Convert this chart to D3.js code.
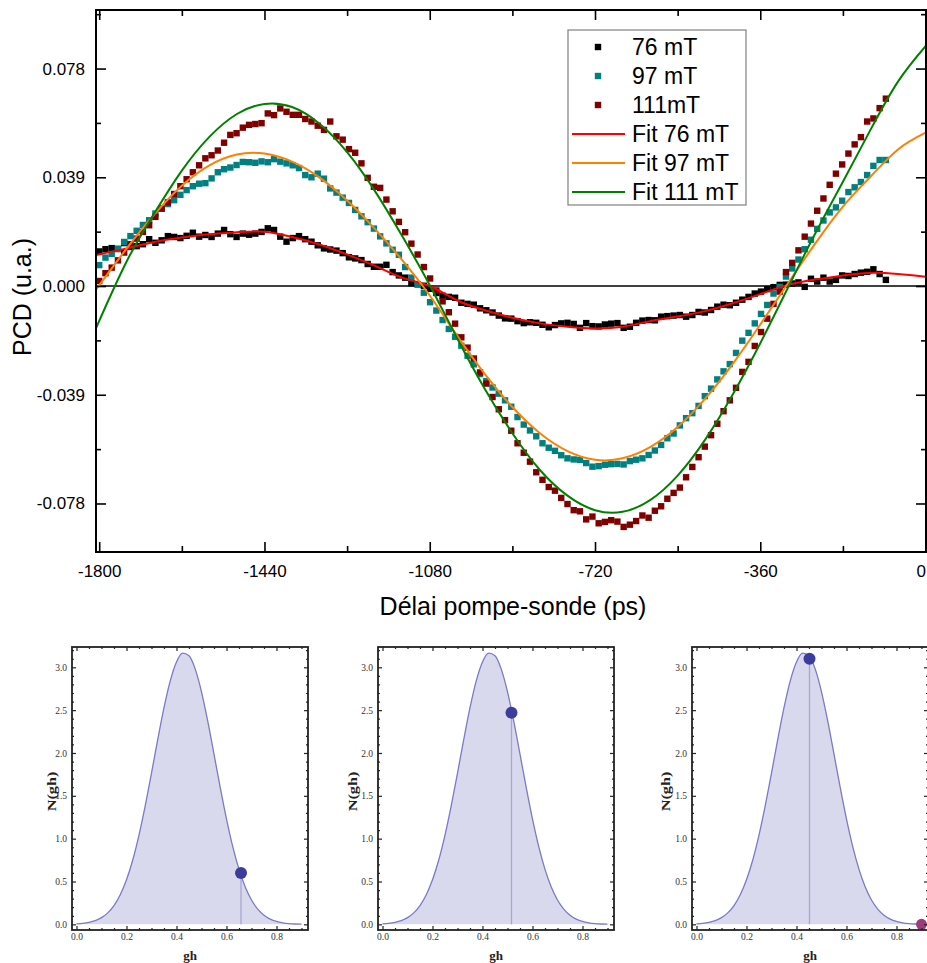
<!DOCTYPE html>
<html><head><meta charset="utf-8">
<script src="https://cdn.jsdelivr.net/npm/d3@7"></script>
<style>html,body{margin:0;padding:0;background:#fff}svg{display:block}</style>
</head><body>
<svg id="c" width="927" height="963"></svg>
<script>
// ---------- main chart data (PCD in u.a., delay in ps) ----------
const delays = [-1800,-1786.4,-1772.8,-1759.2,-1745.6,-1732,-1718.4,-1704.8,-1691.2,-1677.6,-1664,-1650.4,-1636.8,-1623.2,-1609.6,-1596,-1582.4,-1568.8,-1555.2,-1541.6,-1528,-1514.4,-1500.8,-1487.2,-1473.6,-1460,-1446.4,-1432.8,-1419.2,-1405.6,-1392,-1378.4,-1364.8,-1351.2,-1337.6,-1324,-1310.4,-1296.8,-1283.2,-1269.6,-1256,-1242.4,-1228.8,-1215.2,-1201.6,-1188,-1174.4,-1160.8,-1147.2,-1133.6,-1120,-1106.4,-1092.8,-1079.2,-1065.6,-1052,-1038.4,-1024.8,-1011.2,-997.6,-984,-970.4,-956.8,-943.2,-929.6,-916,-902.4,-888.8,-875.2,-861.6,-848,-834.4,-820.8,-807.2,-793.6,-780,-766.4,-752.8,-739.2,-725.6,-712,-698.4,-684.8,-671.2,-657.6,-644,-630.4,-616.8,-603.2,-589.6,-576,-562.4,-548.8,-535.2,-521.6,-508,-494.4,-480.8,-467.2,-453.6,-440,-426.4,-412.8,-399.2,-385.6,-372,-358.4,-344.8,-331.2,-317.6,-304,-290.4,-276.8,-263.2,-249.6,-236,-222.4,-208.8,-195.2,-181.6,-168,-154.4,-140.8,-127.2,-113.6,-100,-86.4];

const pcd76 = [0.0124,0.0132,0.0136,0.0133,0.0154,0.0140,0.0143,0.0150,0.0168,0.0155,
0.0164,0.0179,0.0176,0.0172,0.0180,0.0191,0.0177,0.0183,0.0176,0.0188,
0.0201,0.0186,0.0176,0.0188,0.0184,0.0188,0.0194,0.0207,0.0201,0.0177,
0.0159,0.0172,0.0179,0.0168,0.0159,0.0146,0.0135,0.0131,0.0127,0.0118,
0.0103,0.0099,0.0093,0.0079,0.0069,0.0069,0.0076,0.0050,0.0038,0.0030,
0.0010,0.0006,0.0001,-0.0010,-0.0025,-0.0035,-0.0039,-0.0042,-0.0060,-0.0064,
-0.0067,-0.0080,-0.0087,-0.0095,-0.0106,-0.0116,-0.0117,-0.0126,-0.0133,-0.0130,
-0.0132,-0.0139,-0.0148,-0.0140,-0.0134,-0.0132,-0.0136,-0.0150,-0.0133,-0.0144,
-0.0145,-0.0138,-0.0135,-0.0133,-0.0150,-0.0146,-0.0132,-0.0124,-0.0122,-0.0123,
-0.0110,-0.0108,-0.0106,-0.0104,-0.0110,-0.0104,-0.0093,-0.0095,-0.0086,-0.0074,
-0.0067,-0.0069,-0.0060,-0.0049,-0.0039,-0.0027,-0.0020,-0.0011,-0.0004,0.0004,
0.0005,0.0009,0.0013,-0.0003,0.0026,0.0016,0.0030,0.0016,0.0022,0.0038,
0.0036,0.0043,0.0048,0.0051,0.0060,0.0043,0.0022];

const pcd97 = [0.0075,0.0102,0.0115,0.0133,0.0158,0.0179,0.0198,0.0219,0.0236,0.0260,
0.0277,0.0294,0.0308,0.0327,0.0344,0.0358,0.0367,0.0369,0.0386,0.0408,
0.0419,0.0425,0.0434,0.0445,0.0444,0.0442,0.0447,0.0444,0.0455,0.0446,
0.0440,0.0433,0.0423,0.0398,0.0390,0.0403,0.0385,0.0350,0.0335,0.0317,
0.0298,0.0273,0.0250,0.0229,0.0206,0.0178,0.0153,0.0130,0.0112,0.0068,
0.0030,0.0006,-0.0024,-0.0058,-0.0088,-0.0122,-0.0154,-0.0182,-0.0214,-0.0250,
-0.0281,-0.0316,-0.0341,-0.0364,-0.0386,-0.0410,-0.0433,-0.0470,-0.0497,-0.0518,
-0.0539,-0.0564,-0.0580,-0.0591,-0.0607,-0.0618,-0.0622,-0.0624,-0.0635,-0.0648,
-0.0646,-0.0641,-0.0639,-0.0638,-0.0640,-0.0628,-0.0623,-0.0618,-0.0606,-0.0590,
-0.0570,-0.0546,-0.0529,-0.0500,-0.0474,-0.0456,-0.0430,-0.0395,-0.0368,-0.0335,
-0.0306,-0.0280,-0.0240,-0.0196,-0.0168,-0.0134,-0.0100,-0.0068,-0.0027,-0.0003,
0.0034,0.0063,0.0095,0.0132,0.0166,0.0205,0.0235,0.0264,0.0282,0.0306,
0.0337,0.0354,0.0373,0.0398,0.0431,0.0452,0.0452];

const pcd111 = [0.0018,0.0046,0.0066,0.0092,0.0120,0.0150,0.0170,0.0194,0.0218,0.0248,
0.0278,0.0300,0.0330,0.0358,0.0383,0.0408,0.0433,0.0458,0.0469,0.0486,
0.0514,0.0542,0.0548,0.0568,0.0578,0.0581,0.0584,0.0619,0.0613,0.0637,
0.0625,0.0614,0.0614,0.0599,0.0590,0.0575,0.0560,0.0590,0.0537,0.0525,
0.0491,0.0478,0.0440,0.0388,0.0356,0.0352,0.0310,0.0268,0.0230,0.0193,
0.0152,0.0113,0.0068,0.0027,-0.0016,-0.0055,-0.0094,-0.0135,-0.0184,-0.0221,
-0.0260,-0.0310,-0.0350,-0.0398,-0.0442,-0.0481,-0.0519,-0.0564,-0.0598,-0.0630,
-0.0668,-0.0695,-0.0721,-0.0734,-0.0760,-0.0782,-0.0804,-0.0808,-0.0837,-0.0827,
-0.0851,-0.0846,-0.0840,-0.0845,-0.0864,-0.0856,-0.0843,-0.0823,-0.0831,-0.0806,
-0.0790,-0.0763,-0.0742,-0.0723,-0.0686,-0.0649,-0.0614,-0.0576,-0.0535,-0.0494,
-0.0449,-0.0410,-0.0365,-0.0308,-0.0272,-0.0215,-0.0165,-0.0117,-0.0064,-0.0020,
0.0050,0.0083,0.0128,0.0177,0.0224,0.0270,0.0314,0.0363,0.0403,0.0436,
0.0475,0.0508,0.0534,0.0590,0.0601,0.0638,0.0672];

const fitDelays = [-1807,-1740,-1680,-1620,-1560,-1500,-1440,-1380,-1320,-1260,-1200,-1140,-1080,-1020,-960,-900,-840,-780,-720,-660,-600,-540,-480,-420,-360,-300,-240,-180,-120,-60,0];
const fit76 = [0.0111,0.0135,0.0158,0.0174,0.0186,0.0193,0.0195,0.0176,0.0149,0.0113,0.0073,0.0030,0.0000,-0.0052,-0.0087,-0.0114,-0.0134,-0.0146,-0.0152,-0.0146,-0.0126,-0.0109,-0.0090,-0.0062,-0.0029,0.0004,0.0023,0.0038,0.0047,0.0043,0.0033];
const fit97 = [-0.0013,0.0135,0.0257,0.0360,0.0433,0.0472,0.0475,0.0446,0.0389,0.0307,0.0206,0.0093,-0.0034,-0.0179,-0.0316,-0.0434,-0.0528,-0.0592,-0.0623,-0.0618,-0.0578,-0.0506,-0.0404,-0.0279,-0.0138,0.0009,0.0153,0.0285,0.0392,0.0490,0.0550];
const fit111 = [-0.0151,0.0089,0.0261,0.0414,0.0535,0.0617,0.0653,0.0642,0.0582,0.0480,0.0342,0.0179,0.0003,-0.0188,-0.0369,-0.0528,-0.0660,-0.0752,-0.0804,-0.0810,-0.0768,-0.0680,-0.0551,-0.0389,-0.0205,-0.0007,0.0189,0.0374,0.0560,0.0733,0.0860];

const xTicks = [-1800,-1440,-1080,-720,-360,0];
const xMinorTicks = [-1620,-1260,-900,-540,-180];
const yTicks = [-0.078,-0.039,0,0.039,0.078];
const yMinorTicks = [-0.0585,-0.0195,0.0195,0.0585,0.0975];
const legendLabels = ["76 mT","97 mT","111mT","Fit 76 mT","Fit 97 mT","Fit 111 mT"];

// ---------- lower panels: distribution N(gh) ----------
const gh = [0,0.025,0.05,0.075,0.1,0.125,0.15,0.175,0.2,0.225,0.25,0.275,0.3,0.325,0.35,0.375,0.4,0.425,0.45,0.475,0.5,0.525,0.55,0.575,0.6,0.625,0.65,0.675,0.7,0.725,0.75,0.775,0.8,0.825,0.85,0.875,0.9];
const density = [0.006,0.012,0.024,0.044,0.078,0.134,0.219,0.345,0.520,0.751,1.042,1.385,1.765,2.158,2.529,2.842,3.063,3.165,3.136,2.979,2.714,2.371,1.986,1.595,1.228,0.907,0.642,0.436,0.284,0.177,0.106,0.061,0.034,0.018,0.009,0.004,0.002];
const panelPoints = [[0.658,0.60],[0.516,2.47],[0.452,3.10]];
const extraPoint = [0.90,0.0];
const ghTicks = [0,0.2,0.4,0.6,0.8];
const ghMinor = [0.05,0.1,0.15,0.25,0.3,0.35,0.45,0.5,0.55,0.65,0.7,0.75,0.85,0.9];
const nTicks = [0,0.5,1,1.5,2,2.5,3];
const nMinor = [0.1,0.2,0.3,0.4,0.6,0.7,0.8,0.9,1.1,1.2,1.3,1.4,1.6,1.7,1.8,1.9,2.1,2.2,2.3,2.4,2.6,2.7,2.8,2.9,3.1,3.2];

// ---------- drawing ----------
const svg = d3.select("#c");
const SANS = "'Liberation Sans', Arial, Helvetica, sans-serif";
const SERIF = "'Liberation Serif', 'Times New Roman', serif";
const M = {l:96, r:926, t:10, b:552};
const x = d3.scaleLinear().domain([-1807,1]).range([M.l,M.r]);
const y = d3.scaleLinear().domain([-0.0954,0.099]).range([M.b,M.t]);

svg.append("defs").append("clipPath").attr("id","clipMain")
  .append("rect").attr("x",M.l).attr("y",M.t).attr("width",M.r-M.l).attr("height",M.b-M.t);

const main = svg.append("g");
main.append("line").attr("x1",M.l).attr("x2",M.r).attr("y1",y(0)).attr("y2",y(0))
  .attr("stroke","#000").attr("stroke-width",1.6);

const plot = main.append("g").attr("clip-path","url(#clipMain)");
const series = [{v:pcd76,c:"#000000"},{v:pcd97,c:"#008080"},{v:pcd111,c:"#800000"}];
const S = 6.4;
series.forEach(s=>{
  plot.append("g").selectAll("rect").data(delays.map((d,i)=>[d,s.v[i]])).join("rect")
    .attr("x",d=>x(d[0])-S/2).attr("y",d=>y(d[1])-S/2)
    .attr("width",S).attr("height",S).attr("fill",s.c);
});
const fits = [{v:fit76,c:"#ff0000"},{v:fit97,c:"#ff8000"},{v:fit111,c:"#008000"}];
const fline = d3.line().x(d=>x(d[0])).y(d=>y(d[1])).curve(d3.curveNatural);
fits.forEach(f=>{
  plot.append("path").attr("d",fline(fitDelays.map((d,i)=>[d,f.v[i]])))
    .attr("fill","none").attr("stroke",f.c).attr("stroke-width",2);
});

function styleMain(g){
  g.select(".domain").remove();
  g.selectAll("line").attr("stroke","#000").attr("stroke-width",1.6);
  g.selectAll("text").attr("font-family",SANS).attr("font-size",17).attr("fill","#000");
}
const fmtX = d=>String(d);
const fmtY = d=>d.toFixed(3);
const xAxisG = main.append("g").attr("transform",`translate(0,${M.b})`)
  .call(d3.axisBottom(x).tickValues(xTicks).tickSize(-10).tickPadding(13).tickFormat(fmtX)).call(styleMain);
// keep the last label ("0") inside the window edge
xAxisG.selectAll(".tick text").filter(d=>d===0).attr("text-anchor","end").attr("x",0);
main.append("g").attr("transform",`translate(0,${M.b})`)
  .call(d3.axisBottom(x).tickValues(xMinorTicks).tickSize(-6).tickFormat("")).call(styleMain);
main.append("g").attr("transform",`translate(0,${M.t})`)
  .call(d3.axisTop(x).tickValues(xTicks).tickSize(-10).tickFormat("")).call(styleMain);
main.append("g").attr("transform",`translate(0,${M.t})`)
  .call(d3.axisTop(x).tickValues(xMinorTicks).tickSize(-6).tickFormat("")).call(styleMain);
main.append("g").attr("transform",`translate(${M.l},0)`)
  .call(d3.axisLeft(y).tickValues(yTicks).tickSize(-10).tickPadding(11).tickFormat(fmtY)).call(styleMain);
main.append("g").attr("transform",`translate(${M.l},0)`)
  .call(d3.axisLeft(y).tickValues(yMinorTicks).tickSize(-5).tickFormat("")).call(styleMain);
main.append("g").attr("transform",`translate(${M.r},0)`)
  .call(d3.axisRight(y).tickValues(yTicks).tickSize(-10).tickFormat("")).call(styleMain);
main.append("g").attr("transform",`translate(${M.r},0)`)
  .call(d3.axisRight(y).tickValues(yMinorTicks).tickSize(-5).tickFormat("")).call(styleMain);

main.append("rect").attr("x",M.l).attr("y",M.t).attr("width",M.r-M.l).attr("height",M.b-M.t)
  .attr("fill","none").attr("stroke","#000").attr("stroke-width",2);

main.append("text").attr("x",513).attr("y",615).attr("text-anchor","middle")
  .attr("font-family",SANS).attr("font-size",25).text("Délai pompe-sonde (ps)");
main.append("text").attr("transform","translate(31,297) rotate(-90)").attr("text-anchor","middle")
  .attr("font-family",SANS).attr("font-size",25).text("PCD (u.a.)");

// legend
const lg = main.append("g");
lg.append("rect").attr("x",568).attr("y",30).attr("width",178).attr("height",175)
  .attr("fill","#fff").attr("stroke","#808080").attr("stroke-width",1.2);
const legendStyles = [
  {type:"pt",c:"#000000"},{type:"pt",c:"#008080"},{type:"pt",c:"#800000"},
  {type:"ln",c:"#ff0000"},{type:"ln",c:"#ff8000"},{type:"ln",c:"#008000"}];
legendLabels.forEach((t,i)=>{
  const cy = 47 + i*29;
  const st = legendStyles[i];
  if(st.type==="pt"){
    lg.append("rect").attr("x",598-S/2).attr("y",cy-S/2).attr("width",S).attr("height",S).attr("fill",st.c);
  } else {
    lg.append("line").attr("x1",572).attr("x2",625).attr("y1",cy).attr("y2",cy).attr("stroke",st.c).attr("stroke-width",2);
  }
  lg.append("text").attr("x",632).attr("y",cy).attr("dy","0.36em")
    .attr("font-family",SANS).attr("font-size",23).attr("fill","#000").text(t);
});

// ---------- lower panels ----------
const PW = 236, PT = 647, PB = 930;
const panels = [{left:72, nx:51},{left:378, nx:352},{left:692, nx:665}];
const fillC = "#d9d9ee", lineC = "#7a7ac6", dotC = "#3b3c9c", vlineC = "#a6a6d6";

panels.forEach((p,k)=>{
  const gx = d3.scaleLinear().domain([-0.018,0.926]).range([p.left,p.left+PW]);
  const gy = d3.scaleLinear().domain([-0.066,3.237]).range([PB,PT]);
  const g = svg.append("g");
  const cid = "clipP"+k;
  g.append("clipPath").attr("id",cid).append("rect").attr("x",p.left).attr("y",PT).attr("width",PW).attr("height",PB-PT);
  const inner = g.append("g").attr("clip-path",`url(#${cid})`);
  const pts = gh.map((v,i)=>[v,density[i]]);
  inner.append("path").attr("d",d3.area().x(d=>gx(d[0])).y0(gy(0)).y1(d=>gy(d[1])).curve(d3.curveMonotoneX)(pts))
    .attr("fill",fillC).attr("stroke","none");
  inner.append("path").attr("d",d3.line().x(d=>gx(d[0])).y(d=>gy(d[1])).curve(d3.curveMonotoneX)(pts))
    .attr("fill","none").attr("stroke",lineC).attr("stroke-width",1.3);
  const mp = panelPoints[k];
  inner.append("line").attr("x1",gx(mp[0])).attr("x2",gx(mp[0])).attr("y1",gy(0)).attr("y2",gy(mp[1]))
    .attr("stroke",vlineC).attr("stroke-width",1.3);
  inner.append("circle").attr("cx",gx(mp[0])).attr("cy",gy(mp[1])).attr("r",6).attr("fill",dotC);
  if(k===2){
    inner.append("circle").attr("cx",gx(extraPoint[0])).attr("cy",gy(extraPoint[1])).attr("r",5.5).attr("fill","#9c3b7c");
  }
  const sty = sel=>{
    sel.select(".domain").remove();
    sel.selectAll("line").attr("stroke","#222").attr("stroke-width",1.2);
    sel.selectAll("text").attr("font-family",SERIF).attr("font-size",9.5).attr("fill","#333");
  };
  g.append("g").attr("transform",`translate(0,${PB})`).call(d3.axisBottom(gx).tickValues(ghTicks).tickSize(-4).tickPadding(3).tickFormat(d3.format(".1f"))).call(sty);
  g.append("g").attr("transform",`translate(0,${PB})`).call(d3.axisBottom(gx).tickValues(ghMinor).tickSize(-2).tickFormat("")).call(sty);
  g.append("g").attr("transform",`translate(0,${PT})`).call(d3.axisTop(gx).tickValues(ghTicks).tickSize(-4).tickFormat("")).call(sty);
  g.append("g").attr("transform",`translate(0,${PT})`).call(d3.axisTop(gx).tickValues(ghMinor).tickSize(-2).tickFormat("")).call(sty);
  g.append("g").attr("transform",`translate(${p.left},0)`).call(d3.axisLeft(gy).tickValues(nTicks).tickSize(-4).tickPadding(5).tickFormat(d3.format(".1f"))).call(sty);
  g.append("g").attr("transform",`translate(${p.left},0)`).call(d3.axisLeft(gy).tickValues(nMinor).tickSize(-2).tickFormat("")).call(sty);
  g.append("g").attr("transform",`translate(${p.left+PW},0)`).call(d3.axisRight(gy).tickValues(nTicks).tickSize(-4).tickFormat("")).call(sty);
  g.append("g").attr("transform",`translate(${p.left+PW},0)`).call(d3.axisRight(gy).tickValues(nMinor).tickSize(-2).tickFormat("")).call(sty);
  g.append("rect").attr("x",p.left).attr("y",PT).attr("width",PW).attr("height",PB-PT)
    .attr("fill","none").attr("stroke","#222").attr("stroke-width",1.8);
  g.append("text").attr("transform",`translate(${p.nx+5},${(PT+PB)/2+3}) scale(1,1.25) rotate(-90)`)
    .attr("text-anchor","middle").attr("font-family",SERIF).attr("font-size",13).attr("font-weight","bold")
    .attr("fill","#222").text("N(gh)");
  g.append("text").attr("x",p.left+PW/2).attr("y",960).attr("text-anchor","middle")
    .attr("font-family",SERIF).attr("font-size",13).attr("font-weight","bold").attr("fill","#222").text("gh");
});
</script>
</body></html>
